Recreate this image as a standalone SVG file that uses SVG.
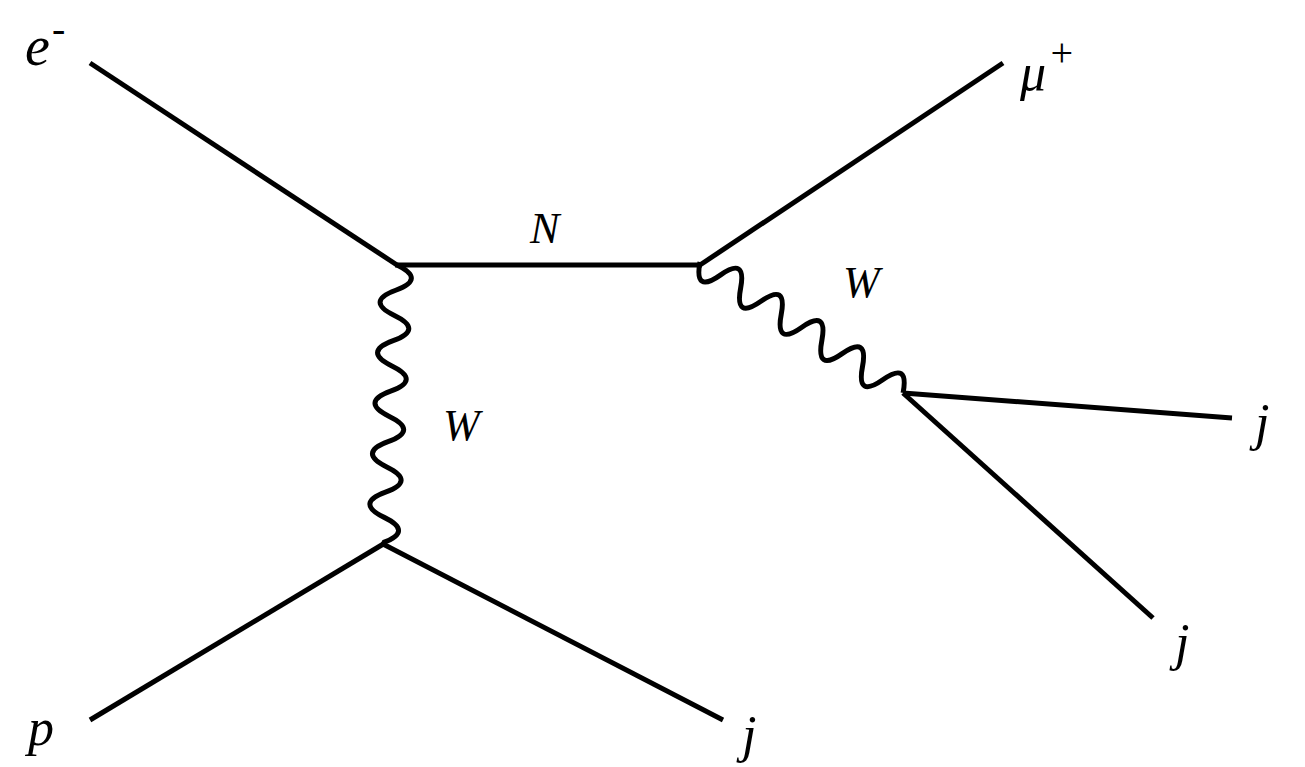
<svg xmlns="http://www.w3.org/2000/svg" width="1305" height="767" viewBox="0 0 1305 767">
<style>
.l{stroke:#000;stroke-width:5;fill:none;stroke-linecap:butt}
.t{font-family:"Liberation Serif",serif;font-style:italic;fill:#000}
</style>
<rect width="1305" height="767" fill="#fff"/>
<g id="connectors">
<line class="l" x1="90" y1="63" x2="397" y2="265"/>
<line class="l" x1="395" y1="265" x2="702" y2="265"/>
<line class="l" x1="700" y1="265" x2="1003" y2="63"/>
<path class="l" transform="translate(397,265) rotate(92.9)" d="M0,0 q12.64,-30 25.27,0 t25.27,0 t25.27,0 t25.27,0 t25.27,0 t25.27,0 t25.27,0 t25.27,0 t25.27,0 t25.27,0 t25.27,0"/>
<line class="l" x1="90" y1="720" x2="385" y2="543"/>
<line class="l" x1="381" y1="543" x2="723" y2="720"/>
<path class="l" transform="translate(700,262) rotate(32.8)" d="M0,0 q12.08,30 24.16,0 t24.16,0 t24.16,0 t24.16,0 t24.16,0 t24.16,0 t24.16,0 t24.16,0 t24.16,0 t24.16,0"/>
<line class="l" x1="903" y1="393" x2="1232" y2="418"/>
<line class="l" x1="903" y1="393" x2="1153" y2="618"/>
</g>
<g id="labels">
<text class="t" x="25" y="65" font-size="56">e</text><text class="t" x="52" y="42" font-size="40">-</text>
<text class="t" x="1020" y="90" font-size="52">μ</text><text class="t" x="1048" y="66" font-size="40" font-style="normal">+</text>
<text class="t" x="530" y="243" font-size="44">N</text>
<text class="t" x="443" y="440" font-size="44">W</text>
<text class="t" x="843" y="297" font-size="44">W</text>
<text class="t" x="1255" y="440" font-size="52">j</text>
<text class="t" x="1175" y="660" font-size="52">j</text>
<text class="t" x="742" y="752" font-size="52">j</text>
<text class="t" x="28" y="745" font-size="52">p</text>
</g>
</svg>
